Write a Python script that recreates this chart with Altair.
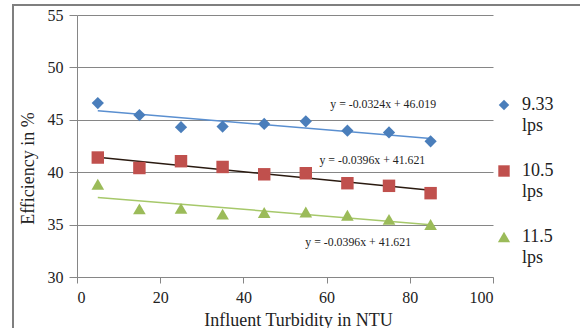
import altair as alt
import pandas as pd

turbidity = [5, 15, 25, 35, 45, 55, 65, 75, 85]
eff_933 = [46.6, 45.45, 44.3, 44.35, 44.6, 44.85, 43.96, 43.8, 42.95]
eff_105 = [41.4, 40.4, 41.05, 40.5, 39.8, 39.9, 38.95, 38.7, 38.0]
eff_115 = [38.85, 36.5, 36.55, 36.0, 36.15, 36.2, 35.9, 35.5, 35.0]
series_names = ["9.33", "10.5", "11.5"]
unit = "lps"
marker_colors = ["#4A7EBB", "#C0504D", "#9BBB59"]
trend_colors = ["#5A8FD0", "#2A1A10", "#A6C86A"]
shapes = ["diamond", "square", "triangle-up"]
marker_sizes = [150, 160, 130]
legend_sizes = [110, 150, 110]

eq_text = ["y = -0.0324x + 46.019", "y = -0.0396x + 41.621", "y = -0.0396x + 41.621"]
eq_x = [73.6, 71.0, 67.6]
eq_y = [46.5, 41.15, 33.3]

rows = []
for name, vals in zip(series_names, [eff_933, eff_105, eff_115]):
    for t, v in zip(turbidity, vals):
        rows.append({"series": name, "x": t, "y": v})
df = pd.DataFrame(rows)
eq_df = pd.DataFrame({"text": eq_text, "x": eq_x, "y": eq_y})
leg_df = pd.DataFrame({"series": series_names, "unit": [unit] * 3})

FONT = "Liberation Serif"
xs = alt.Scale(domain=[0, 100])
ys = alt.Scale(domain=[30, 55])
color_scale = alt.Scale(domain=series_names, range=marker_colors)
shape_scale = alt.Scale(domain=series_names, range=shapes)
size_scale = alt.Scale(domain=series_names, range=marker_sizes)

points = alt.Chart(df).mark_point(filled=True, opacity=1).encode(
    x=alt.X("x:Q", scale=xs, axis=alt.Axis(
        values=[0, 20, 40, 60, 80, 100], title="Influent Turbidity in NTU",
        grid=False, tickSize=6, labelPadding=6, titleX=221, titleY=48,
        titleBaseline="alphabetic")),
    y=alt.Y("y:Q", scale=ys, axis=alt.Axis(
        values=[30, 35, 40, 45, 50, 55], title="Efficiency in %",
        grid=True, tickSize=8, labelPadding=6, titleX=-40, titleY=153)),
    color=alt.Color("series:N", scale=color_scale, legend=None),
    shape=alt.Shape("series:N", scale=shape_scale, legend=None),
    size=alt.Size("series:N", scale=size_scale, legend=None),
)

trend = alt.Chart(df).transform_regression("x", "y", groupby=["series"]).mark_line(strokeWidth=1.5).encode(
    x=alt.X("x:Q", scale=xs),
    y=alt.Y("y:Q", scale=ys),
    color=alt.Color("series:N", scale=alt.Scale(domain=series_names, range=trend_colors), legend=None),
    detail="series:N",
)

eqs = alt.Chart(eq_df).mark_text(font=FONT, fontSize=11.8, color="#222").encode(
    x=alt.X("x:Q", scale=xs), y=alt.Y("y:Q", scale=ys), text="text:N")

frame = alt.Chart(eq_df).mark_rect(fill=None, stroke="#7f7f7f", strokeWidth=2).encode(
    x=alt.value(-64), x2=alt.value(540), y=alt.value(-10), y2=alt.value(340))

leg_y = alt.Y("series:N", scale=alt.Scale(domain=series_names, range=[90, 222], padding=0), axis=None)
leg_sym = alt.Chart(leg_df).mark_point(filled=True, opacity=1).encode(
    x=alt.value(427), y=leg_y,
    color=alt.Color("series:N", scale=color_scale, legend=None),
    shape=alt.Shape("series:N", scale=shape_scale, legend=None),
    size=alt.Size("series:N", scale=alt.Scale(domain=series_names, range=legend_sizes), legend=None),
)
leg_t1 = alt.Chart(leg_df).mark_text(font=FONT, fontSize=18, color="#222", align="left", baseline="middle").encode(
    x=alt.value(445), y=leg_y, text="series:N")
leg_t2 = alt.Chart(leg_df).mark_text(font=FONT, fontSize=18, color="#222", align="left", baseline="middle", dy=21).encode(
    x=alt.value(445), y=leg_y, text="unit:N")
legend = alt.layer(leg_sym, leg_t1, leg_t2)

main = alt.layer(frame, trend, points, eqs).resolve_scale(color="independent")

chart = alt.layer(main, legend).resolve_scale(y="independent", color="independent", size="independent").properties(
    width=416, height=262,
    autosize=alt.AutoSizeParams(type="none"),
    padding={"left": 77, "top": 15, "right": 87, "bottom": 51},
).configure_view(stroke=None).configure_axis(
    domainColor="#868686", tickColor="#868686", gridColor="#868686", gridWidth=1,
    labelFont=FONT, titleFont=FONT, labelFontSize=16, titleFontSize=18,
    labelColor="#222", titleColor="#222", titleFontWeight="normal",
)

chart.save("out.html", embed_options={"renderer": "svg", "actions": False})
